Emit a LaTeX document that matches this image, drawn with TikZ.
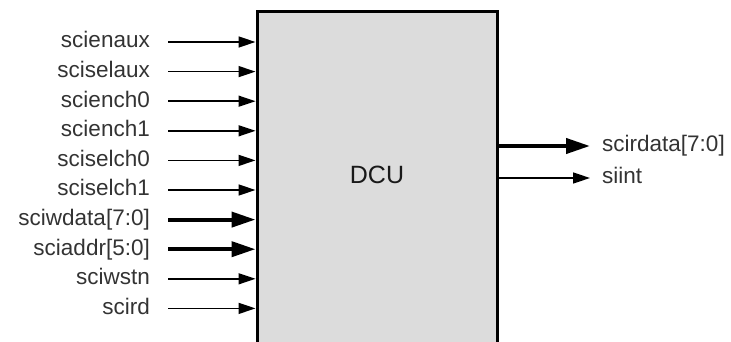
\documentclass[tikz,border=0pt]{standalone}
\usepackage{fontspec}
\setmainfont{Liberation Sans}
\usepackage{xcolor}
\usetikzlibrary{positioning,arrows.meta}
\definecolor{blockgray}{HTML}{DCDCDC}
\definecolor{labelgray}{HTML}{333333}

\begin{document}
\begin{tikzpicture}[x=1pt, y=-1pt, every node/.style={font=\fontsize{22.5}{27}\selectfont, text=labelgray}, block/.style={draw=black, line width=3pt, fill=blockgray, minimum width=240pt, minimum height=360pt, inner sep=0pt}, portlbl/.style={inner xsep=0pt, inner ysep=0pt, text height=11.7pt, text depth=0pt}, inport/.style={portlbl, anchor=east}, outport/.style={portlbl, anchor=west}, sigwire/.style={line width=1.5pt, -{Triangle[length=17pt,width=11pt]}}, buswire/.style={line width=4pt, -{Triangle[length=24pt,width=15pt]}}]
\useasboundingbox (0,0) rectangle (731,342);
\clip (0,0) rectangle (731,342);
\node[block] (dcu) at (377,192) {};
\node[font=\fontsize{25}{30}\selectfont, text=black!90] (dcuname) at (377,175) {DCU};
% inputs
\node[inport] (enaux) at (150,42) {scienaux};
\node[inport] (selaux) at (150,71.6) {sciselaux};
\node[inport] (ench0) at (150,101.2) {sciench0};
\node[inport] (ench1) at (150,130.8) {sciench1};
\node[inport] (selch0) at (150,160.4) {sciselch0};
\node[inport] (selch1) at (150,190) {sciselch1};
\node[inport] (wdata) at (150,219.6) {sciwdata[7:0]};
\node[inport] (addr) at (150,249.2) {sciaddr[5:0]};
\node[inport] (wstn) at (150,278.8) {sciwstn};
\node[inport] (rd) at (150,308.4) {scird};
\draw[sigwire] ([xshift=18pt]enaux.east) -- (enaux.east -| dcu.west);
\draw[sigwire] ([xshift=18pt]selaux.east) -- (selaux.east -| dcu.west);
\draw[sigwire] ([xshift=18pt]ench0.east) -- (ench0.east -| dcu.west);
\draw[sigwire] ([xshift=18pt]ench1.east) -- (ench1.east -| dcu.west);
\draw[sigwire] ([xshift=18pt]selch0.east) -- (selch0.east -| dcu.west);
\draw[sigwire] ([xshift=18pt]selch1.east) -- (selch1.east -| dcu.west);
\draw[buswire] ([xshift=18pt]wdata.east) -- (wdata.east -| dcu.west);
\draw[buswire] ([xshift=18pt]addr.east) -- (addr.east -| dcu.west);
\draw[sigwire] ([xshift=18pt]wstn.east) -- (wstn.east -| dcu.west);
\draw[sigwire] ([xshift=18pt]rd.east) -- (rd.east -| dcu.west);
% outputs
\node[outport] (rdata) at (602,146) {scirdata[7:0]};
\node[outport] (iint) at (602,178) {siint};
\draw[buswire] (rdata.west -| dcu.east) -- ([xshift=-12pt]rdata.west);
\draw[sigwire] (iint.west -| dcu.east) -- ([xshift=-12pt]iint.west);
\end{tikzpicture}
\end{document}
